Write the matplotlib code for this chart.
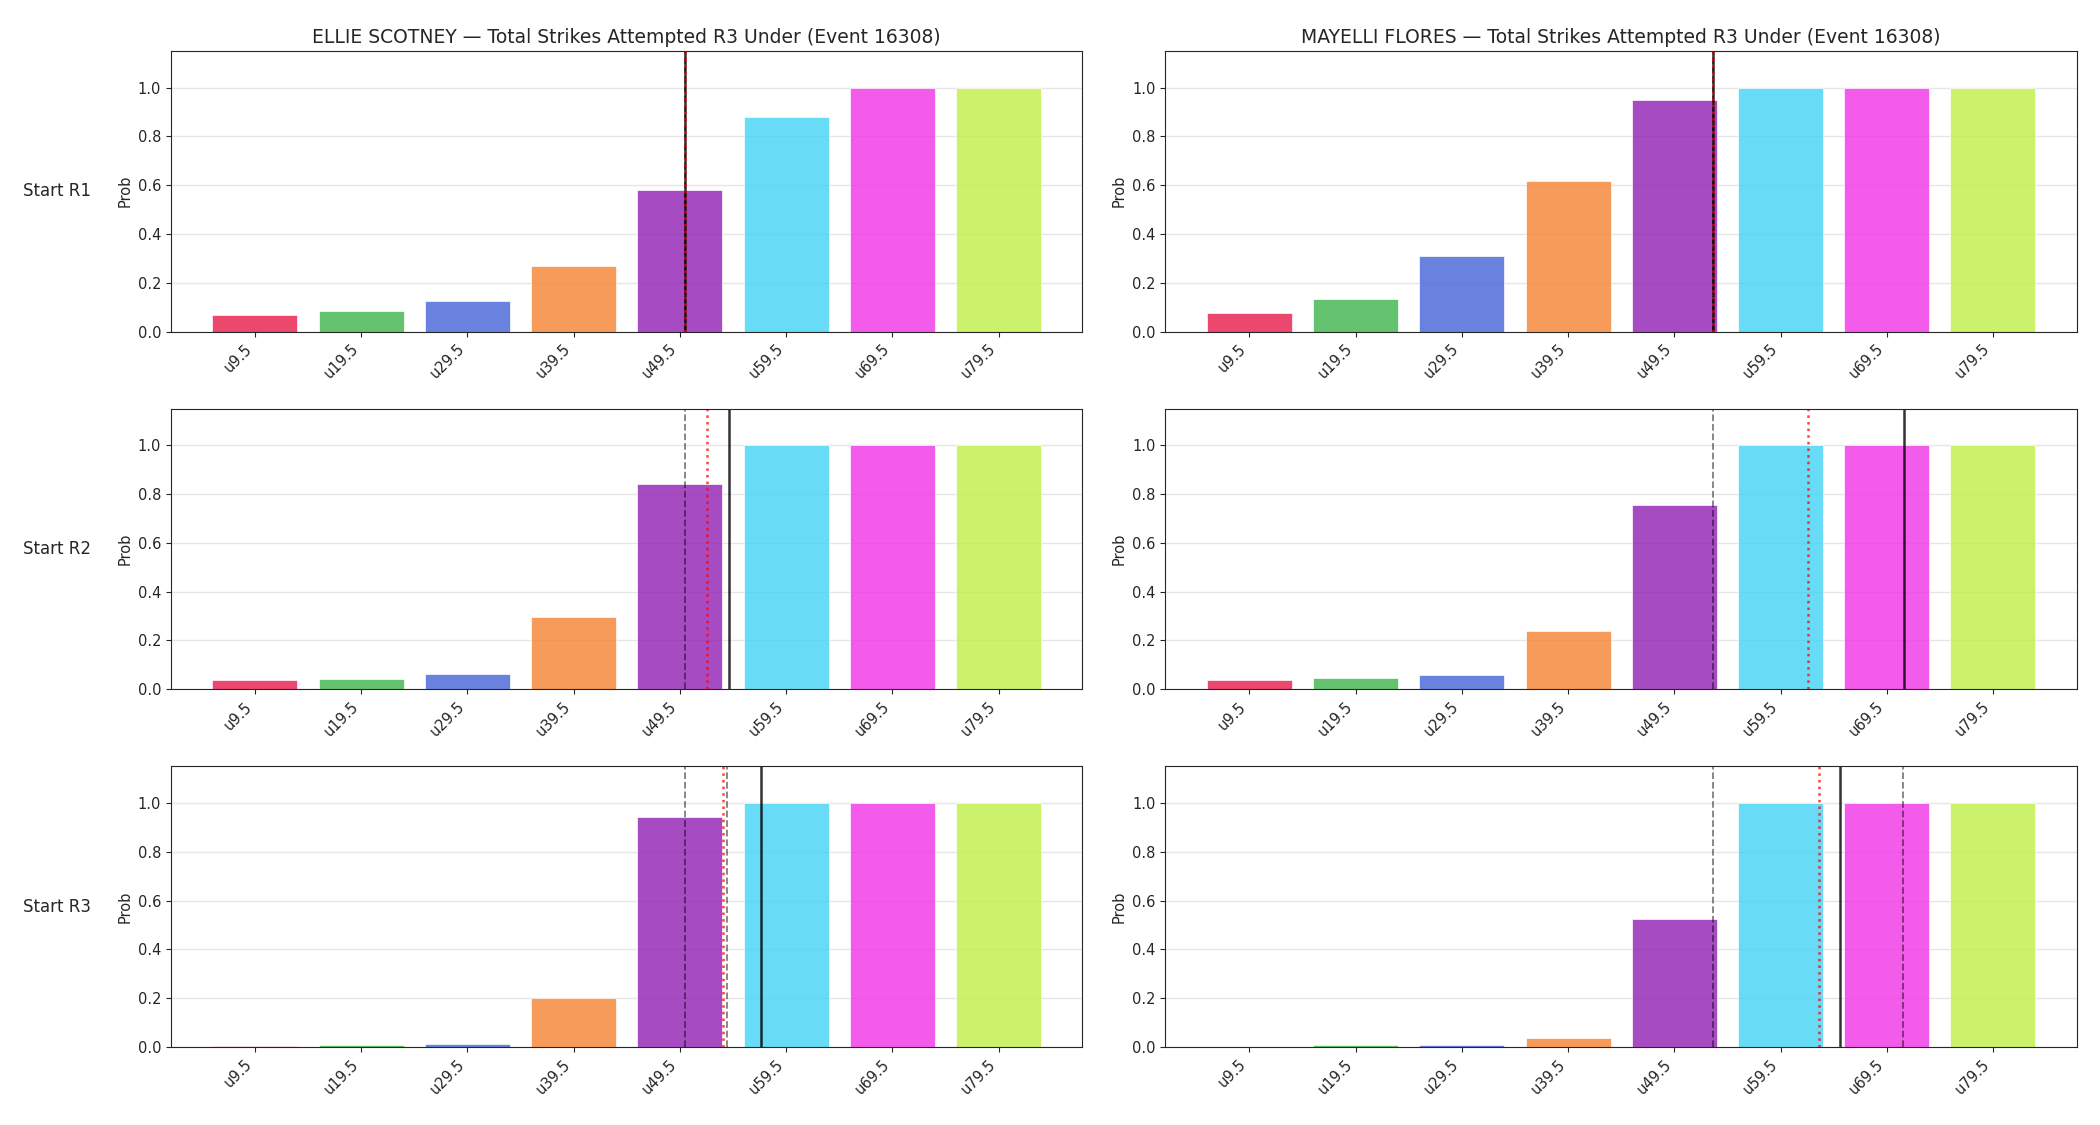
import numpy as np
import matplotlib
matplotlib.use("Agg")
import matplotlib.pyplot as plt
import seaborn as sns

sns.set_style("ticks")
plt.rcParams['font.family'] = ['DejaVu Sans']

# strike thresholds (under lines)
thresholds = [9.5, 19.5, 29.5, 39.5, 49.5, 59.5, 69.5, 79.5]
tick_labels = ["u9.5", "u19.5", "u29.5", "u39.5", "u49.5", "u59.5", "u69.5", "u79.5"]
colors = ["#e6194b", "#3cb44b", "#4363d8", "#f58231",
          "#911eb4", "#42d4f4", "#f032e6", "#bfef45"]

fighters = ["ELLIE SCOTNEY", "MAYELLI FLORES"]
rows = ["Start R1", "Start R2", "Start R3"]

# probabilities, per fighter per row
scotney_r1 = [0.067, 0.085, 0.126, 0.269, 0.582, 0.878, 1.0, 1.0]
scotney_r2 = [0.040, 0.044, 0.064, 0.298, 0.841, 1.0, 1.0, 1.0]
scotney_r3 = [0.004, 0.008, 0.012, 0.202, 0.944, 1.0, 1.0, 1.0]
flores_r1 = [0.075, 0.133, 0.310, 0.619, 0.948, 1.0, 1.0, 1.0]
flores_r2 = [0.040, 0.047, 0.059, 0.240, 0.754, 1.0, 1.0, 1.0]
flores_r3 = [0.002, 0.008, 0.009, 0.038, 0.525, 1.0, 1.0, 1.0]

# reference lines in strike units: grey dashed, red dotted, black solid
scotney_grey = [[50.0], [50.0], [50.0, 53.9]]
scotney_red = [50.0, 52.1, 53.6]
scotney_black = [50.0, 54.1, 57.1]
flores_grey = [[53.1], [53.1], [53.1, 71.0]]
flores_red = [53.1, 62.1, 63.1]
flores_black = [53.1, 71.1, 65.1]

probs = [[scotney_r1, scotney_r2, scotney_r3], [flores_r1, flores_r2, flores_r3]]
greys = [scotney_grey, flores_grey]
reds = [scotney_red, flores_red]
blacks = [scotney_black, flores_black]

xs = np.arange(len(thresholds))


def to_x(v):
    return np.interp(v, thresholds, xs)


fig, axes = plt.subplots(3, 2, figsize=(21, 11.25), dpi=100)
fig.subplots_adjust(left=0.0814, right=0.989, top=0.9547, bottom=0.0693,
                    wspace=0.091, hspace=0.275)

for c in range(2):
    for r in range(3):
        ax = axes[r, c]
        ax.bar(xs, probs[c][r], color=colors, alpha=0.8, width=0.8,
               edgecolor="white", linewidth=0.6)
        for g in greys[c][r]:
            ax.axvline(to_x(g), color="k", ls="--", lw=1.3, alpha=0.5)
        ax.axvline(to_x(blacks[c][r]), color="k", ls="-", lw=1.8, alpha=0.8)
        ax.axvline(to_x(reds[c][r]), color="red", ls=":", lw=1.8, alpha=0.75)
        ax.set_ylim(0, 1.15)
        ax.set_xticks(xs)
        ax.set_xticklabels(tick_labels, rotation=45, ha="right", fontsize=10.5)
        ax.tick_params(axis="y", labelsize=10.5)
        ax.set_ylabel("Prob", fontsize=10.5)
        ax.set_axisbelow(True)
        ax.grid(axis="y", color="0.9", lw=1)
        if r == 0:
            ax.set_title(f"{fighters[c]} — Total Strikes Attempted R3 Under (Event 16308)",
                         fontsize=13.5)
        if c == 0:
            pos = ax.get_position()
            fig.text(0.011, (pos.y0 + pos.y1) / 2, rows[r], fontsize=12,
                     ha="left", va="center")

fig.savefig("out.png", dpi=100)
plt.close(fig)
